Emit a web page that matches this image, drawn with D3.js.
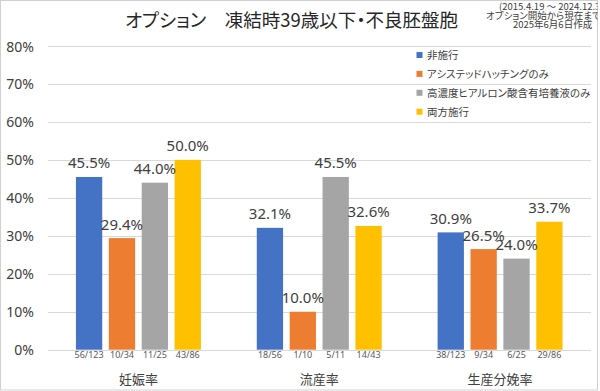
<!DOCTYPE html>
<html>
<head>
<meta charset="utf-8">
<script src="https://cdn.jsdelivr.net/npm/d3@7"></script>
<style>
  body { margin: 0; background: #fff; }
  text { font-family: "Noto Sans", "Noto Sans CJK JP", sans-serif; }
  .jp { font-family: "Noto Sans CJK JP", sans-serif; font-feature-settings: "palt"; }
</style>
</head>
<body>
<div id="chart"></div>
<script>
"use strict";

// chart data
const categories = ["妊娠率", "流産率", "生産分娩率"];
const seriesNames = ["非施行", "アシステッドハッチングのみ", "高濃度ヒアルロン酸含有培養液のみ", "両方施行"];
const seriesColors = ["#4472C4", "#ED7D31", "#A5A5A5", "#FFC000"];

const noTreatment = [45.5, 32.1, 30.9];
const ahOnly = [29.4, 10.0, 26.5];
const hyaluronanOnly = [44.0, 45.5, 24.0];
const bothTreatments = [50.0, 32.6, 33.7];

const noTreatmentCounts = ["56/123", "18/56", "38/123"];
const ahOnlyCounts = ["10/34", "1/10", "9/34"];
const hyaluronanOnlyCounts = ["11/25", "5/11", "6/25"];
const bothTreatmentsCounts = ["43/86", "14/43", "29/86"];

const yTicks = [0, 10, 20, 30, 40, 50, 60, 70, 80];
const titleText = "オプション　凍結時39歳以下・不良胚盤胞";
const noteLines = ["(2015.4.19 ～ 2024.12.31)", "オプション開始から現在まで", "2025年6月6日作成"];

const seriesValues = [noTreatment, ahOnly, hyaluronanOnly, bothTreatments];
const seriesCounts = [noTreatmentCounts, ahOnlyCounts, hyaluronanOnlyCounts, bothTreatmentsCounts];

const W = 600, H = 391;

const svg = d3.select("#chart")
  .append("svg")
  .attr("width", W)
  .attr("height", H);

svg.append("clipPath")
  .attr("id", "frame")
  .append("rect")
  .attr("x", 0).attr("y", 0).attr("width", 597.5).attr("height", 390);

// outer border
svg.append("rect")
  .attr("x", 0.5).attr("y", 0.5)
  .attr("width", 597).attr("height", 389.5)
  .attr("fill", "#fff")
  .attr("stroke", "#d0d0d0");

// scales
const x0 = d3.scaleBand()
  .domain(categories)
  .range([48, 590.5])
  .paddingInner(0.309)
  .paddingOuter(0.1545);

const x1 = d3.scaleBand()
  .domain(d3.range(seriesNames.length))
  .range([0, x0.bandwidth()])
  .paddingInner(0.2);

const y = d3.scaleLinear()
  .domain([0, 80])
  .range([349.7, 46]);

// gridlines
svg.append("g")
  .selectAll("line")
  .data(yTicks)
  .join("line")
  .attr("x1", 48).attr("x2", 591)
  .attr("y1", d => Math.round(y(d)) + 0.5)
  .attr("y2", d => Math.round(y(d)) + 0.5)
  .attr("stroke", "#d9d9d9")
  .attr("stroke-width", 1);

// y axis labels
svg.append("g")
  .selectAll("text")
  .data(yTicks)
  .join("text")
  .attr("x", 34)
  .attr("y", d => y(d) + 5.5)
  .attr("text-anchor", "end")
  .attr("font-size", 14)
  .attr("fill", "#404040")
  .text(d => d + "%");

// bars
const rows = [];
categories.forEach((c, ci) => {
  seriesValues.forEach((vals, si) => {
    rows.push({cat: c, s: si, value: vals[ci], count: seriesCounts[si][ci]});
  });
});

const bars = svg.append("g");

bars.selectAll("rect")
  .data(rows)
  .join("rect")
  .attr("x", d => x0(d.cat) + x1(d.s))
  .attr("y", d => y(d.value))
  .attr("width", x1.bandwidth())
  .attr("height", d => y(0) - y(d.value))
  .attr("fill", d => seriesColors[d.s]);

// value labels
bars.selectAll("text.val")
  .data(rows)
  .join("text")
  .attr("class", "val")
  .attr("x", d => x0(d.cat) + x1(d.s) + x1.bandwidth() / 2)
  .attr("y", d => y(d.value) - 8.5)
  .attr("text-anchor", "middle")
  .attr("font-size", 15)
  .attr("fill", "#404040")
  .text(d => d.value.toFixed(1) + "%");

// count labels under bars
bars.selectAll("text.cnt")
  .data(rows)
  .join("text")
  .attr("class", "cnt")
  .attr("x", d => x0(d.cat) + x1(d.s) + x1.bandwidth() / 2)
  .attr("y", 358)
  .attr("text-anchor", "middle")
  .attr("font-size", 9)
  .attr("fill", "#595959")
  .text(d => d.count);

// category labels
svg.append("g")
  .selectAll("text")
  .data(categories)
  .join("text")
  .attr("class", "jp")
  .attr("x", d => x0(d) + x0.bandwidth() / 2)
  .attr("y", 384)
  .attr("text-anchor", "middle")
  .attr("font-size", 13)
  .attr("fill", "#404040")
  .text(d => d);

// title
svg.append("text")
  .attr("class", "jp")
  .attr("x", 291.5)
  .attr("y", 27)
  .attr("text-anchor", "middle")
  .attr("font-size", 18.5)
  .attr("fill", "#262626")
  .text(titleText);

// note in the top right corner (clipped by the frame like the original)
const noteX = [499, 486, 513];
svg.append("g")
  .attr("clip-path", "url(#frame)")
  .selectAll("text")
  .data(noteLines)
  .join("text")
  .attr("class", "jp")
  .attr("x", (d, i) => noteX[i])
  .attr("y", (d, i) => 10 + i * 9.2)
  .attr("font-size", 9.5)
  .attr("fill", "#404040")
  .text(d => d);

// legend
const legend = svg.append("g")
  .selectAll("g")
  .data(seriesNames)
  .join("g")
  .attr("transform", (d, i) => "translate(416.5," + (55 + i * 18.9) + ")");

legend.append("rect")
  .attr("x", 0).attr("y", -3)
  .attr("width", 6).attr("height", 6)
  .attr("fill", (d, i) => seriesColors[i]);

legend.append("text")
  .attr("class", "jp")
  .attr("x", 10.5)
  .attr("y", 4)
  .attr("font-size", 10.5)
  .attr("fill", "#404040")
  .text(d => d);
</script>
</body>
</html>
